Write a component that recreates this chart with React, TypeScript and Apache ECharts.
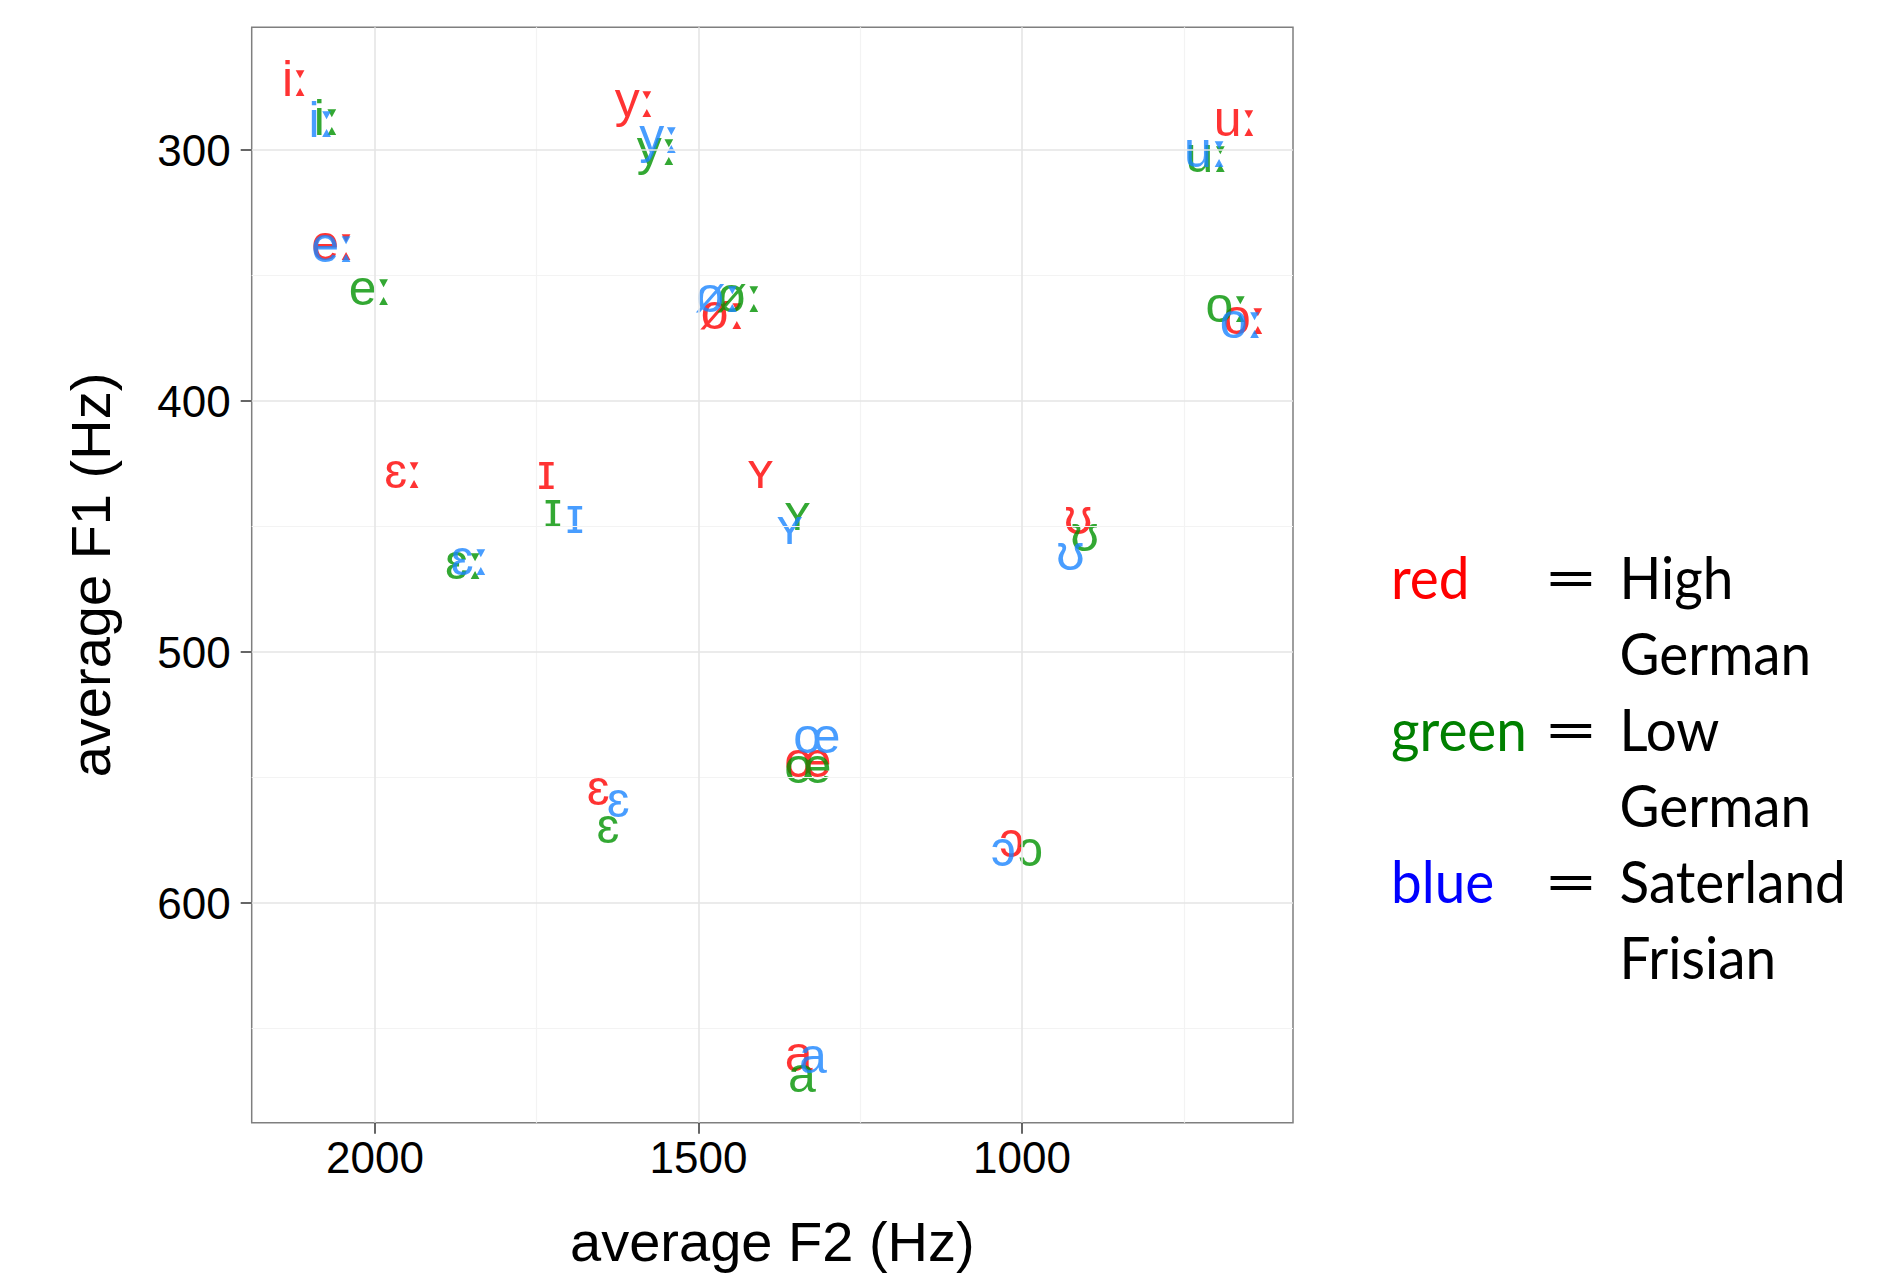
import React, { useEffect, useRef } from "react";
import * as echarts from "echarts";

// Vowel labels (same order for every variety)
const vowels = ["iː", "yː", "uː", "eː", "øː", "oː", "ɛː", "ɪ", "ʏ", "ʊ", "ɛ", "œ", "ɔ", "a"];

// High German (red)
const highGermanF2 = [2122, 1597, 669, 2064, 1462, 655, 1955, 1735, 1404, 913, 1655, 1331, 1016, 1345];
const highGermanF1 = [271.7, 280, 287.5, 337, 364.5, 366.7, 428, 428.4, 428, 446, 554, 543, 575, 660];
// Low German (green)
const lowGermanF2 = [2073, 1563, 713, 2006, 1436, 682, 1861, 1725, 1347, 903, 1640, 1331, 987, 1340];
const lowGermanF1 = [287.3, 299, 302, 355, 357.8, 361.6, 464, 443.5, 444.6, 453, 569.4, 545.3, 578.5, 668.4];
// Saterland Frisian (blue)
const saterlandF2 = [2081, 1559, 715, 2064, 1469, 660, 1852, 1691, 1359, 925, 1624, 1317, 1029, 1323];
const saterlandF1 = [288, 294.5, 300, 338, 357.8, 368.3, 462.5, 445.7, 450, 460.6, 558.8, 533.6, 578.5, 661];

// Axis ticks and grid
const xTicks = [2000, 1500, 1000];
const xMinor = [1750, 1250, 750];
const yTicks = [300, 400, 500, 600];
const yMinor = [350, 450, 550, 650];

// Legend
const legendWords = ["red", "green", "blue"];
const legendColors = ["#FF0000", "#008000", "#0000FF"];
const legendLangs = [["High", "German"], ["Low", "German"], ["Saterland", "Frisian"]];

const plotColors = ["#FF0000", "#009200", "#1A84FF"];

const FONT = "'Liberation Sans', Arial, Helvetica, sans-serif";
const LEGEND_FONT = "59px Lato, 'Open Sans', sans-serif";

export default function App() {
  const ref = useRef<HTMLDivElement>(null);
  useEffect(() => {
    if (!ref.current) return;
    const chart = echarts.init(ref.current, undefined, { renderer: "svg" });

    const makeSeries = (name: string, f2: number[], f1: number[], color: string) => ({
      type: "scatter",
      name,
      z: 3,
      data: f2.map((x, i) => ({ value: [x, f1[i]], name: vowels[i] })),
      symbolSize: 1,
      itemStyle: { color: "rgba(0,0,0,0)" },
      label: {
        show: true,
        position: "inside",
        formatter: (p: any) => {
          const n: string = p.name;
          const base = n.replace("ː", "");
          return n.indexOf("ː") >= 0 ? `{a|${base}}{b|ː}` : `{a|${base}}`;
        },
        color,
        fontSize: 50,
        lineHeight: 50,
        fontFamily: FONT,
        align: "center",
        verticalAlign: "middle",
        rich: {
          a: { color, fontSize: 50, lineHeight: 50, fontFamily: FONT },
          b: { color, fontSize: 50, lineHeight: 50, fontFamily: "'DejaVu Sans', sans-serif" },
        },
      },
      emphasis: { disabled: true },
      silent: true,
    });

    const gridLines = [
      ...xMinor.map((v) => ({ xAxis: v, lineStyle: { color: "#F3F3F3", width: 1.2, type: "solid" } })),
      ...yMinor.map((v) => ({ yAxis: v, lineStyle: { color: "#F3F3F3", width: 1.2, type: "solid" } })),
      ...xTicks.map((v) => ({ xAxis: v, lineStyle: { color: "#E5E5E5", width: 1.6, type: "solid" } })),
      ...yTicks.map((v) => ({ yAxis: v, lineStyle: { color: "#E5E5E5", width: 1.6, type: "solid" } })),
    ];

    const legendGraphics: any[] = [];
    const baseY0 = 600;
    const rowStep = 76.1;
    legendWords.forEach((w, i) => {
      const yc = baseY0 + rowStep * 2 * i - 24;
      legendGraphics.push({
        type: "text",
        x: 1391,
        y: yc,
        scaleX: 0.93,
        style: { text: w, fill: legendColors[i], font: LEGEND_FONT, textAlign: "left", textVerticalAlign: "middle" },
      });
      legendGraphics.push({
        type: "text",
        x: 1571,
        y: yc,
        scaleX: 1.6,
        style: { text: "=", fill: "#000", font: LEGEND_FONT, textAlign: "center", textVerticalAlign: "middle" },
      });
      legendLangs[i].forEach((t, j) => {
        legendGraphics.push({
          type: "text",
          x: 1619.5,
          y: yc + rowStep * j,
          scaleX: 0.93,
          style: { text: t, fill: "#000", font: LEGEND_FONT, textAlign: "left", textVerticalAlign: "middle" },
        });
      });
    });

    chart.setOption({
      animation: false,
      backgroundColor: "#FFFFFF",
      grid: {
        left: 251.7,
        top: 27.3,
        right: 1893 - 1293,
        bottom: 1278 - 1122.7,
        show: true,
        backgroundColor: "#FFFFFF",
        borderColor: "#7F7F7F",
        borderWidth: 1.5,
        containLabel: false,
        outerBoundsMode: "none",
      },
      xAxis: {
        type: "value",
        inverse: true,
        min: 581.2,
        max: 2190.4,
        name: "average F2 (Hz)",
        nameLocation: "middle",
        nameGap: 91,
        nameTextStyle: { fontSize: 56, lineHeight: 56, fontFamily: FONT, color: "#000" },
        axisLine: { show: false },
        axisTick: {
          show: true,
          length: 11,
          customValues: xTicks,
          lineStyle: { color: "#333", width: 1.5 },
        },
        axisLabel: {
          show: true,
          customValues: xTicks,
          formatter: (v: number) => String(v),
          margin: 13,
          fontSize: 44,
          lineHeight: 44,
          fontFamily: FONT,
          color: "#000",
        },
        splitLine: { show: false },
      },
      yAxis: {
        type: "value",
        inverse: true,
        min: 251.1,
        max: 687.5,
        name: "average F1 (Hz)",
        nameLocation: "middle",
        nameGap: 133,
        nameTextStyle: { fontSize: 56, lineHeight: 56, fontFamily: FONT, color: "#000" },
        axisLine: { show: false },
        axisTick: {
          show: true,
          length: 11,
          customValues: yTicks,
          lineStyle: { color: "#333", width: 1.5 },
        },
        axisLabel: {
          show: true,
          customValues: yTicks,
          formatter: (v: number) => String(v),
          margin: 21,
          fontSize: 44,
          lineHeight: 44,
          fontFamily: FONT,
          color: "#000",
        },
        splitLine: { show: false },
      },
      graphic: legendGraphics,
      series: [
        {
          type: "line",
          data: [],
          z: 1,
          silent: true,
          markLine: {
            silent: true,
            symbol: ["none", "none"],
            label: { show: false },
            emphasis: { disabled: true },
            data: gridLines,
          },
        },
        makeSeries("High German", highGermanF2, highGermanF1, plotColors[0]),
        makeSeries("Low German", lowGermanF2, lowGermanF1, plotColors[1]),
        makeSeries("Saterland Frisian", saterlandF2, saterlandF1, plotColors[2]),
      ],
    });
    return () => chart.dispose();
  }, []);

  return (
    <div
      ref={ref}
      style={{ position: "absolute", left: 0, top: 0, width: 1893, height: 1278 }}
    />
  );
}
